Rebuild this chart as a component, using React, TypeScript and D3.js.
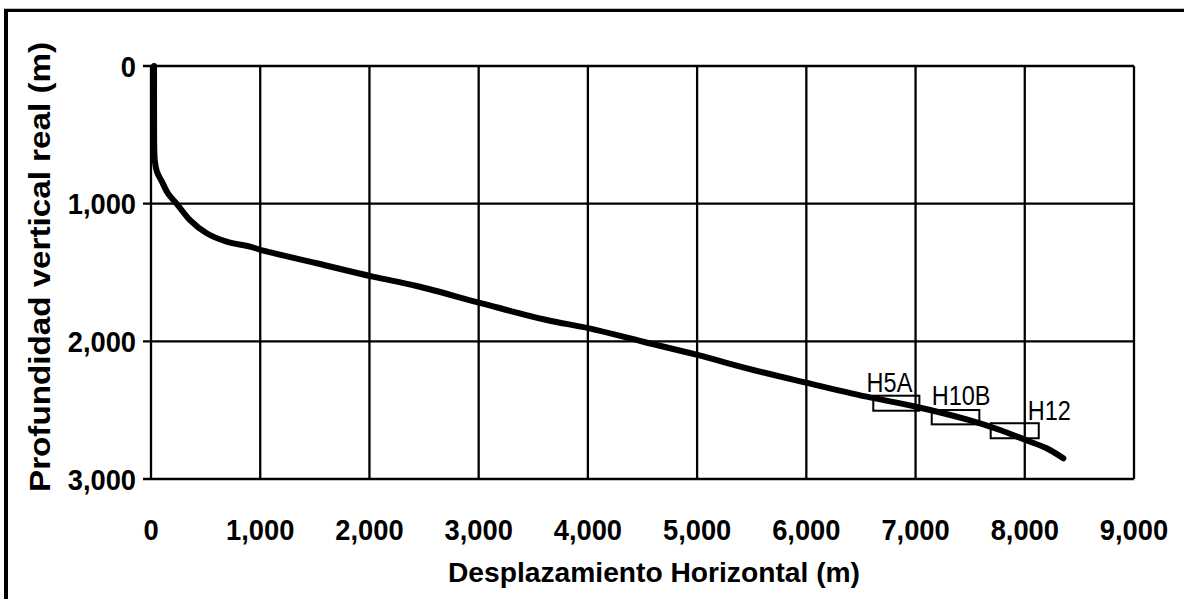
import React from "react";
import * as d3 from "d3";

// Well trajectory: horizontal displacement (m) vs true vertical depth (m)
const displacementM = [28, 28, 30, 35, 55, 100, 155, 245, 357, 510, 693, 906, 1028, 1517, 2030, 2432, 3028, 3623, 4013, 4508, 5002, 5515, 5997, 6553, 7004, 7468, 7773, 8008, 8200, 8353];
const depthM = [0, 300, 600, 690, 770, 840, 925, 1010, 1119, 1215, 1276, 1312, 1341, 1433, 1530, 1598, 1724, 1845, 1906, 2003, 2099, 2208, 2300, 2402, 2475, 2567, 2644, 2717, 2777, 2850];

// Target boxes
const targetNames = ["H5A", "H10B", "H12"];
const targetX0 = [6613, 7148, 7688];
const targetX1 = [7035, 7584, 8128];
const targetD0 = [2395, 2499, 2595];
const targetD1 = [2504, 2603, 2704];
const labelAtX = [6552, 7148, 8027];
const labelAtD = [2366, 2462, 2571];

const xTicks = [0, 1000, 2000, 3000, 4000, 5000, 6000, 7000, 8000, 9000];
const yTicks = [0, 1000, 2000, 3000];

const xTitle = "Desplazamiento Horizontal (m)";
const yTitle = "Profundidad vertical real (m)";

const W = 1184;
const H = 599;
const FONT = "'Liberation Sans', Arial, Helvetica, sans-serif";

export default function App() {
  const x = d3.scaleLinear().domain([0, 9000]).range([151, 1134]);
  const y = d3.scaleLinear().domain([0, 3000]).range([66, 479]);
  const fmt = d3.format(",");

  const pts = displacementM.map((v, i) => [v, depthM[i]] as [number, number]);
  const line = d3
    .line<[number, number]>()
    .x((d) => x(d[0]))
    .y((d) => y(d[1]))
    .curve(d3.curveCatmullRom.alpha(0.5));

  const gridW = 2.3;

  return (
    <svg
      width={W}
      height={H}
      style={{ position: "absolute", left: 0, top: 0, background: "#fff" }}
      fontFamily={FONT}
    >
      <rect x={0} y={0} width={W} height={H} fill="#fff" />
      {/* outer frame (top and left visible) */}
      <line x1={4} x2={W} y1={10.3} y2={10.3} stroke="#000" strokeWidth={3.3} />
      <line x1={6} x2={6} y1={9} y2={H} stroke="#000" strokeWidth={4} />

      {/* vertical grid lines */}
      {xTicks.map((t) => (
        <line key={"gx" + t} x1={x(t)} x2={x(t)} y1={y(0)} y2={y(3000)} stroke="#000" strokeWidth={gridW} />
      ))}
      {/* horizontal grid lines with left ticks */}
      {yTicks.map((t) => (
        <line key={"gy" + t} x1={x(0) - 8} x2={x(9000)} y1={y(t)} y2={y(t)} stroke="#000" strokeWidth={gridW} />
      ))}

      {/* trajectory */}
      <path d={line(pts) || ""} fill="none" stroke="#000" strokeWidth={6} strokeLinecap="round" strokeLinejoin="round" />

      {/* target boxes */}
      {targetNames.map((n, i) => (
        <g key={n}>
          <rect
            x={x(targetX0[i])}
            y={y(targetD0[i])}
            width={x(targetX1[i]) - x(targetX0[i])}
            height={y(targetD1[i]) - y(targetD0[i])}
            fill="none"
            stroke="#000"
            strokeWidth={2}
          />
          <text
            transform={`translate(${x(labelAtX[i])},${y(labelAtD[i])}) scale(0.87,1)`}
            fontSize={27}
            fill="#000"
          >
            {n}
          </text>
        </g>
      ))}

      {/* y tick labels */}
      {yTicks.map((t) => (
        <text
          key={"ly" + t}
          transform={`translate(136,${y(t)}) scale(0.91,1)`}
          dy="0.35em"
          textAnchor="end"
          fontSize={30}
          fontWeight="bold"
          fill="#000"
        >
          {fmt(t)}
        </text>
      ))}

      {/* x tick labels */}
      {xTicks.map((t) => (
        <text
          key={"lx" + t}
          transform={`translate(${x(t)},540) scale(0.91,1)`}
          textAnchor="middle"
          fontSize={30}
          fontWeight="bold"
          fill="#000"
        >
          {fmt(t)}
        </text>
      ))}

      {/* axis titles */}
      <text
        x={654}
        y={582}
        textAnchor="middle"
        fontSize={28}
        fontWeight="bold"
        textLength={412}
        lengthAdjust="spacingAndGlyphs"
        fill="#000"
      >
        {xTitle}
      </text>
      <text
        transform="translate(50,267) rotate(-90)"
        x={0}
        y={0}
        textAnchor="middle"
        fontSize={30}
        fontWeight="bold"
        textLength={450}
        lengthAdjust="spacingAndGlyphs"
        fill="#000"
      >
        {yTitle}
      </text>
    </svg>
  );
}
